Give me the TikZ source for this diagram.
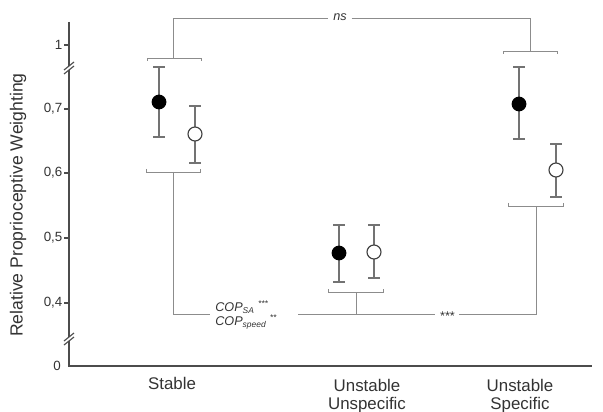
\documentclass[tikz,border=0pt]{standalone}
\usepackage{fontspec}
\setmainfont{Liberation Sans}
\usetikzlibrary{positioning}
\tikzstyle{errbar} = [draw=black!55, line width=0.9pt]
\tikzstyle{bracket} = [draw=black!45, line width=0.7pt]
\tikzstyle{fullmark} = [circle, fill=black, inner sep=0pt, minimum size=0.37cm]
\tikzstyle{openmark} = [circle, draw=black!75, line width=0.8pt, fill=white, inner sep=0pt, minimum size=0.35cm]
\tikzstyle{cond} = [align=center, font=\fontsize{12}{13}\selectfont, text=black!80]
\tikzstyle{sig} = [font=\fontsize{9}{10}\selectfont\itshape, text=black!80]
\begin{document}
\begin{tikzpicture}[x=0.025cm,y=-0.025cm]
	\useasboundingbox (0,0) rectangle (603,412);
	% axes
	\draw [black!70,line width=1pt](69,22) -- (69,366) -- (592,366);
	\foreach \y/\lab in {45/1,109/{0,7},173/{0,6},238/{0,5},303/{0,4}}
	\draw [black!70,line width=0.8pt](64,\y) -- (69,\y) node [left=1pt,font=\fontsize{9.5}{10}\selectfont,text=black!80] {\lab};
	\node [font=\fontsize{9.5}{10}\selectfont,text=black!80] at (57,366) {0};
	% axis breaks
	\foreach \b in {67,338}{
	\fill [white] (64,\b+3) -- (74,\b-5) -- (74,\b-1) -- (64,\b+7) -- cycle;
	\draw [black!70,line width=0.8pt] (64,\b+3) -- (74,\b-5);
	\draw [black!70,line width=0.8pt] (64,\b+7) -- (74,\b-1);
	}
	\node [rotate=90,font=\fontsize{12.5}{13}\selectfont,text=black!80] (ylab) at (18,205) {Relative Proprioceptive Weighting};
	% condition labels
	\node [cond] (stable) at (172,383) {Stable};
	\node [cond,anchor=north] (unspec) at (367,374) {Unstable\\Unspecific};
	\node [cond,anchor=north] (spec) at (520,374) {Unstable\\Specific};
	% error bars and means
	\foreach \x/\m/\lo/\hi/\s in {159/102/137/67/fullmark,195/134/163/106/openmark,339/253/282/225/fullmark,374/252/278/225/openmark,519/104/139/67/fullmark,556/170/197/144/openmark}{
	\coordinate (lo) at (\x,\lo);
	\coordinate (hi) at (\x,\hi);
	\draw [errbar] (lo) -- (hi);
	\draw [errbar] ([xshift=-0.15cm]lo) -- ([xshift=0.15cm]lo);
	\draw [errbar] ([xshift=-0.15cm]hi) -- ([xshift=0.15cm]hi);
	\node [\s] at (\x,\m) {};
	}
	% brackets on top
	\draw [bracket] (147,61) -- (147,58) -- (201,58) -- (201,61);
	\draw [bracket] (503,54) -- (503,51) -- (557,51) -- (557,54);
	\node [sig] (ns) at (340,17) {ns};
	\draw [bracket] (173,58) -- (173,18) -- (ns.west |- 0,18);
	\draw [bracket] (ns.east |- 0,18) -- (530,18) -- (530,51);
	% brackets below
	\draw [bracket] (146,169) -- (146,172) -- (200,172) -- (200,169);
	\draw [bracket] (328,289) -- (328,292) -- (383,292) -- (383,289);
	\draw [bracket] (508,203) -- (508,206) -- (563,206) -- (563,203);
	\node [sig,anchor=west,align=left,inner sep=0pt] (cop) at (215,315) {COP\textsubscript{SA} \textsuperscript{***}\\COP\textsubscript{speed} \textsuperscript{**}};
	\node [sig] (stars) at (447,316) {***};
	\draw [bracket] (173,172) -- (173,314) -- (210,314);
	\draw [bracket] (298,314) -- (stars.west |- 0,314);
	\draw [bracket] (stars.east |- 0,314) -- (536,314) -- (536,206);
	\draw [bracket] (356,292) -- (356,314);
\end{tikzpicture}
\end{document}
